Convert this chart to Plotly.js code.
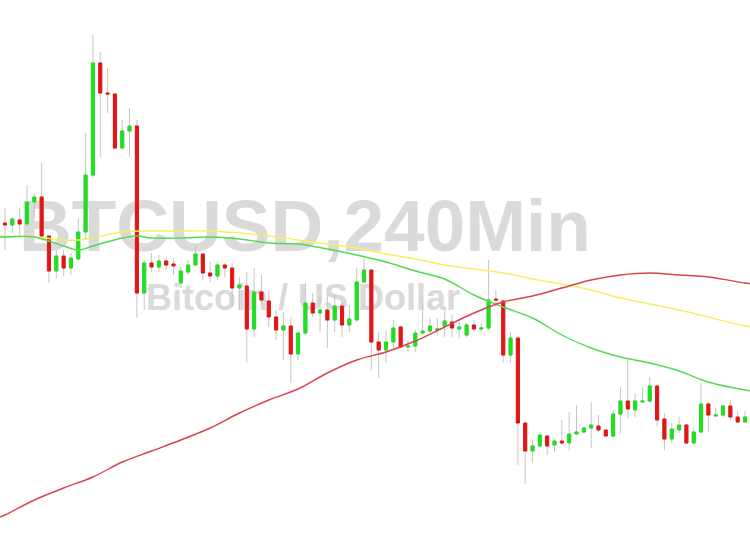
<!DOCTYPE html>
<html>
<head>
<meta charset="utf-8">
<script src="https://cdn.plot.ly/plotly-3.0.1.min.js"></script>
<style>html,body{margin:0;padding:0;background:#fff;}#chart{width:750px;height:536px;}</style>
</head>
<body>
<div id="chart"></div>
<script>
// BTCUSD 240-minute candles
const open  = [9554,9550,9560,9552,9596,9606,9528,9458,9488,9464,9482,9536,9650,9874,9814,9812,9704,9738,9748,9414,
               9474,9466,9478,9472,9434,9456,9470,9492,9454,9448,9470,9464,9424,9428,9342,9416,9398,9366,9340,9348,
               9292,9334,9394,9374,9380,9360,9388,9350,9360,9436,9460,9316,9300,9316,9346,9306,9308,9334,9338,9340,
               9348,9356,9342,9330,9350,9342,9344,9402,9398,9290,9324,9154,9098,9108,9128,9110,9118,9114,9132,9136,
               9144,9148,9140,9128,9172,9198,9180,9196,9198,9228,9162,9122,9140,9150,9114,9136,9192,9168,9170,9188,
               9166,9156];
const high  = [9584,9566,9584,9630,9614,9674,9530,9500,9500,9494,9564,9734,9930,9896,9864,9814,9760,9784,9760,9480,
               9494,9490,9486,9484,9466,9480,9510,9494,9476,9476,9474,9474,9446,9456,9464,9450,9416,9380,9376,9366,
               9336,9434,9414,9406,9414,9410,9396,9390,9464,9484,9462,9336,9340,9360,9348,9320,9340,9394,9364,9364,
               9380,9370,9360,9354,9360,9354,9480,9420,9400,9336,9324,9156,9120,9136,9130,9122,9160,9176,9190,9146,
               9196,9170,9142,9180,9226,9280,9214,9226,9246,9230,9174,9154,9166,9152,9144,9234,9196,9184,9190,9200,
               9178,9178];
const low   = [9500,9534,9526,9546,9566,9520,9434,9444,9448,9450,9480,9520,9646,9686,9774,9700,9700,9686,9364,9380,
               9456,9456,9460,9450,9424,9450,9468,9440,9436,9440,9446,9386,9380,9274,9326,9390,9346,9320,9280,9234,
               9280,9330,9366,9336,9304,9336,9326,9336,9356,9434,9260,9244,9274,9300,9304,9294,9296,9330,9330,9328,
               9326,9326,9324,9326,9336,9336,9340,9386,9276,9274,9070,9032,9074,9104,9090,9096,9110,9098,9130,9132,
               9104,9136,9126,9126,9134,9164,9166,9194,9194,9148,9100,9114,9134,9112,9112,9134,9136,9166,9166,9160,
               9154,9154];
const close = [9550,9562,9552,9596,9606,9528,9458,9488,9464,9484,9536,9650,9874,9814,9812,9704,9738,9748,9414,9474,
               9466,9478,9470,9468,9458,9470,9492,9454,9448,9470,9464,9424,9430,9342,9416,9400,9366,9340,9348,9292,
               9334,9394,9374,9380,9360,9388,9350,9362,9436,9460,9316,9300,9316,9344,9306,9308,9334,9338,9348,9342,
               9358,9344,9346,9350,9342,9344,9400,9400,9290,9324,9154,9098,9108,9130,9108,9118,9114,9132,9136,9144,
               9150,9140,9128,9172,9198,9182,9198,9198,9228,9160,9122,9142,9150,9114,9136,9192,9170,9170,9188,9166,
               9156,9166];

// Moving averages read at selected candle indices
const maGreenIdx  = [-1,0,4,8,10,12,16,18,20,24,28,32,36,40,44,48,52,56,60,64,68,72,76,80,84,88,92,96,101,102];
const maGreenVal  = [9526,9526,9526,9508,9500,9508,9524,9528,9524,9524,9526,9522,9514,9512,9502,9490,9476,9458,9442,9410,9386,9364,9330,9304,9286,9274,9258,9236,9220,9218];
const maYellowIdx = [-1,0,4,8,10,12,16,20,24,28,32,36,40,44,48,52,56,60,64,68,72,76,80,84,88,92,96,101,102];
const maYellowVal = [9528,9528,9526,9520,9520,9524,9536,9538,9538,9538,9534,9528,9520,9512,9504,9492,9482,9470,9462,9454,9442,9432,9420,9404,9392,9380,9366,9348,9346];
const maRedIdx    = [-1,0,4,8,12,16,20,24,28,32,36,40,44,48,52,56,60,64,68,72,76,80,84,88,92,96,101,102];
const maRedVal    = [8964,8970,9000,9024,9046,9076,9098,9120,9144,9174,9200,9222,9254,9280,9296,9318,9346,9374,9396,9408,9424,9440,9450,9454,9450,9446,9434,9432];

const watermarkTitle = "BTCUSD,240Min";
const watermarkSub = "Bitcoin / US Dollar";

const candleIndex = open.map((_, i) => i);
const bodyHigh = open.map((o, i) => Math.max(o, close[i]));
const bodyLow  = open.map((o, i) => Math.min(o, close[i]));

const GREEN = '#1fe01f', RED = '#e31515', WICK = '#c6c6c6';

const data = [
  { // watermark, on the base subplot so candles overlay it
    type: 'scatter', mode: 'text', x: [0.4067, 0.404], y: [0.5655, 0.4385],
    text: ['<b>' + watermarkTitle + '</b>', '<b>' + watermarkSub + '</b>'],
    textposition: 'middle center',
    textfont: { family: 'Liberation Sans, Arial, sans-serif', size: [73, 36], color: '#dadada' },
    hoverinfo: 'skip', showlegend: false, xaxis: 'x', yaxis: 'y'
  },
  { // wicks
    type: 'candlestick', x: candleIndex, open: open, high: high, low: low, close: close,
    increasing: { line: { color: WICK, width: 1 }, fillcolor: WICK },
    decreasing: { line: { color: WICK, width: 1 }, fillcolor: WICK },
    whiskerwidth: 0, hoverinfo: 'skip', showlegend: false, xaxis: 'x2', yaxis: 'y2'
  },
  { // bodies
    type: 'candlestick', x: candleIndex, open: open, high: bodyHigh, low: bodyLow, close: close,
    increasing: { line: { color: GREEN, width: 1 }, fillcolor: GREEN },
    decreasing: { line: { color: RED, width: 1 }, fillcolor: RED },
    whiskerwidth: 0, hoverinfo: 'skip', showlegend: false, xaxis: 'x2', yaxis: 'y2'
  },
  { type: 'scatter', mode: 'lines', x: maYellowIdx, y: maYellowVal,
    line: { color: '#f6ef62', width: 1.4, shape: 'spline', smoothing: 1 }, hoverinfo: 'skip', showlegend: false, xaxis: 'x2', yaxis: 'y2' },
  { type: 'scatter', mode: 'lines', x: maGreenIdx, y: maGreenVal,
    line: { color: '#52da52', width: 1.4, shape: 'spline', smoothing: 1 }, hoverinfo: 'skip', showlegend: false, xaxis: 'x2', yaxis: 'y2' },
  { type: 'scatter', mode: 'lines', x: maRedIdx, y: maRedVal,
    line: { color: '#d8434c', width: 1.4, shape: 'spline', smoothing: 1 }, hoverinfo: 'skip', showlegend: false, xaxis: 'x2', yaxis: 'y2' }
];

const hidden = { visible: false, showgrid: false, zeroline: false, fixedrange: true };
const layout = {
  width: 750, height: 536,
  margin: { l: 0, r: 0, t: 0, b: 0, pad: 0 },
  paper_bgcolor: '#ffffff', plot_bgcolor: '#ffffff',
  showlegend: false, boxgap: 0.4,
  xaxis: Object.assign({ range: [0, 1] }, hidden),
  yaxis: Object.assign({ range: [0, 1] }, hidden),
  xaxis2: Object.assign({ range: [-0.682, 101.68], overlaying: 'x', rangeslider: { visible: false } }, hidden),
  yaxis2: Object.assign({ range: [8928, 10000], overlaying: 'y' }, hidden)
};

Plotly.newPlot('chart', data, layout, { staticPlot: true, displayModeBar: false });
</script>
</body>
</html>
